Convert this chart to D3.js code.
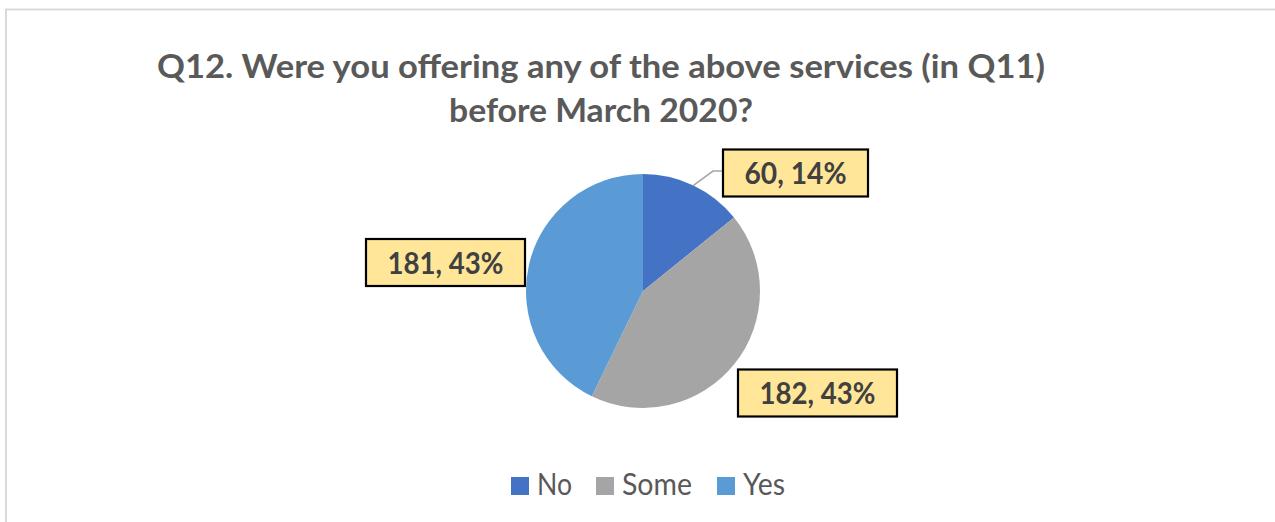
<!DOCTYPE html>
<html>
<head>
<meta charset="utf-8">
<script src="https://cdn.jsdelivr.net/npm/d3@7"></script>
<style>
  html, body { margin: 0; padding: 0; background: #fff; }
  svg { display: block; }
</style>
</head>
<body>
<svg id="chart" width="1275" height="522"></svg>
<script>
// Survey responses to Q12
const categories = ["No", "Some", "Yes"];
const counts = [60, 182, 181];
const colors = ["#4472C4", "#A5A5A5", "#5B9BD5"];
const titleLines = [
  "Q12. Were you offering any of the above services (in Q11)",
  "before March 2020?"
];

const W = 1275, H = 522;
const svg = d3.select("#chart");
const font = "Lato, 'Open Sans', sans-serif";

// chart frame (top and left edges visible)
svg.append("line").attr("x1", 5).attr("x2", W).attr("y1", 9.5).attr("y2", 9.5)
  .attr("stroke", "#d9d9d9").attr("stroke-width", 2);
svg.append("line").attr("x1", 6).attr("x2", 6).attr("y1", 9).attr("y2", H)
  .attr("stroke", "#d9d9d9").attr("stroke-width", 2);

// title
const titleWidths = [888, 304];
const titleBase = [78, 122];
titleLines.forEach((t, i) => {
  svg.append("text")
    .attr("x", 601).attr("y", titleBase[i])
    .attr("text-anchor", "middle")
    .attr("font-family", font).attr("font-weight", 700)
    .attr("font-size", 31.5).attr("fill", "#595959")
    .attr("textLength", titleWidths[i]).attr("lengthAdjust", "spacingAndGlyphs")
    .text(t);
});

// pie
const cx = 643, cy = 291, r = 117;
const total = d3.sum(counts);
const pie = d3.pie().sort(null).value(d => d)(counts);
const arc = d3.arc().innerRadius(0).outerRadius(r);
const g = svg.append("g").attr("transform", `translate(${cx},${cy})`);
g.selectAll("path").data(pie).join("path")
  .attr("d", arc)
  .attr("fill", (d, i) => colors[i]);

// data labels: "count, percent" in callout boxes
const labelOffsets = [[152.5, -118], [174.5, 102], [-197.5, -28.5]];
const labelFmt = d3.format(".0%");
const textWidths = [102, 116, 116];

pie.forEach((d, i) => {
  const [ox, oy] = labelOffsets[i];
  const txt = `${counts[i]}, ${labelFmt(counts[i] / total)}`;
  const bw = textWidths[i] + 43, bh = 47;

  // leader line for the small slice
  if (i === 0) {
    const a = (d.startAngle + d.endAngle) / 2;
    const px = Math.sin(a) * r, py = -Math.cos(a) * r;
    const bx = ox - bw / 2;
    g.append("polyline")
      .attr("points", `${px},${py} ${bx - 10},${oy - 2} ${bx},${oy - 2}`)
      .attr("fill", "none").attr("stroke", "#a6a6a6").attr("stroke-width", 1.6);
  }

  g.append("rect")
    .attr("x", ox - bw / 2).attr("y", oy - bh / 2)
    .attr("width", bw).attr("height", bh)
    .attr("fill", "#FFE699").attr("stroke", "#000").attr("stroke-width", 2.2);
  g.append("text")
    .attr("x", ox).attr("y", oy + 11)
    .attr("text-anchor", "middle")
    .attr("font-family", font).attr("font-weight", 700)
    .attr("font-size", 31).attr("fill", "#404040")
    .attr("textLength", textWidths[i]).attr("lengthAdjust", "spacingAndGlyphs")
    .text(txt);
});

// legend
const legendX = [511, 596, 717];
const legendTextW = [35, 70, 42];
const leg = svg.append("g");
categories.forEach((c, i) => {
  leg.append("rect")
    .attr("x", legendX[i]).attr("y", 477).attr("width", 18).attr("height", 18)
    .attr("fill", colors[i]);
  leg.append("text")
    .attr("x", legendX[i] + 26).attr("y", 495)
    .attr("font-family", font).attr("font-size", 30).attr("fill", "#595959")
    .attr("textLength", legendTextW[i]).attr("lengthAdjust", "spacingAndGlyphs")
    .text(c);
});
</script>
</body>
</html>
